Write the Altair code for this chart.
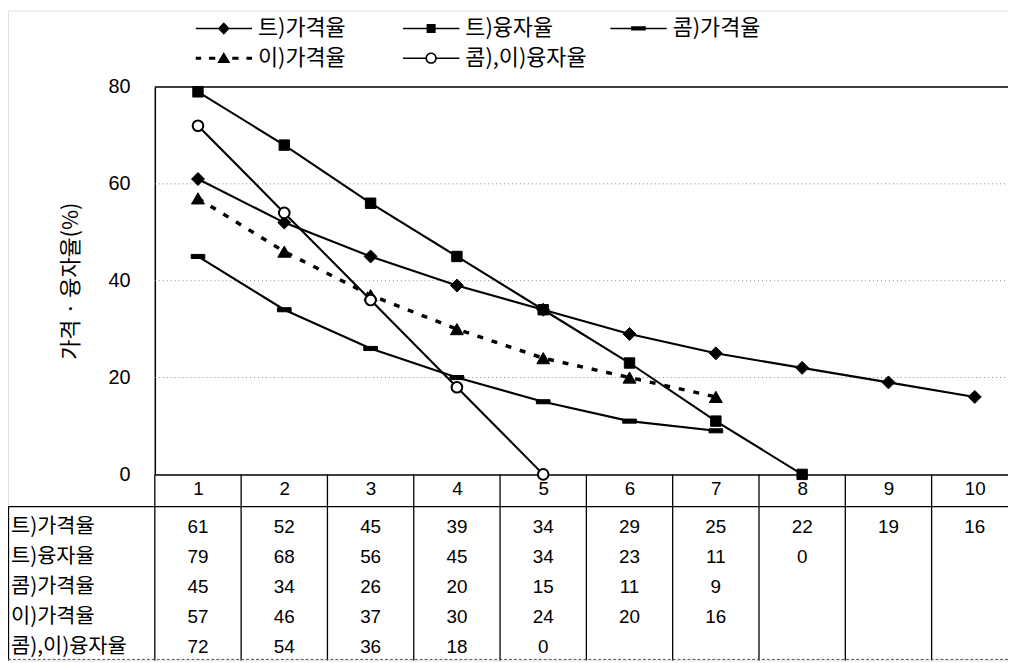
import altair as alt
import pandas as pd

# ---------------- data ----------------
categories = [1, 2, 3, 4, 5, 6, 7, 8, 9, 10]
series_names = ["트)가격율", "트)융자율", "콤)가격율", "이)가격율", "콤),이)융자율"]
t_price = [61, 52, 45, 39, 34, 29, 25, 22, 19, 16]
t_loan = [79, 68, 56, 45, 34, 23, 11, 0]
k_price = [45, 34, 26, 20, 15, 11, 9]
i_price = [57, 46, 37, 30, 24, 20, 16]
ki_loan = [72, 54, 36, 18, 0]
y_ticks = [0, 20, 40, 60, 80]
y_title = "가격 · 융자율(%)"

series_values = [t_price, t_loan, k_price, i_price, ki_loan]
recs = []
for r, (name, vals) in enumerate(zip(series_names, series_values), start=1):
    for c, v in zip(categories, vals):
        recs.append({"series": name, "x": c, "value": v, "row": r})
df = pd.DataFrame(recs)
df_rows = pd.DataFrame({"series": series_names, "row": list(range(1, len(series_names) + 1))})
df_grid = pd.DataFrame({"v": y_ticks[1:-1]})
df_top = pd.DataFrame({"v": [y_ticks[-1]]})
df_sep = pd.DataFrame({"x": [c - 0.5 for c in categories]})
df_one = pd.DataFrame({"k": [0]})

# ---------------- layout ----------------
W, H = 1008, 655
X0, X1 = 148, 1018          # pixel range of category axis (0.5 .. 10.5)
Y0, Y80 = 467.5, 77         # pixel range of value axis
TABLE_TOP = 500
KR = "Noto Sans CJK KR"
NUM = "Liberation Sans"

xs = alt.Scale(domain=[categories[0] - 0.5, categories[-1] + 0.5], range=[X0, X1], nice=False, zero=False)
ys = alt.Scale(domain=[y_ticks[0], y_ticks[-1]], range=[Y0, Y80], nice=False, zero=False)
rs = alt.Scale(domain=[1, len(series_names)], range=[520.5, 642], nice=False, zero=False)

x_axis = alt.Axis(values=categories, format="d", orient="bottom", offset=-(H - Y0), labelPadding=5,
                  ticks=False, grid=False, domainColor="black", domainWidth=1.5, labelFont=NUM,
                  labelFontSize=19, labelColor="black", title=None, labelFlush=False, labelOverlap=False)
y_axis = alt.Axis(values=y_ticks, format="d", orient="left", offset=-X0, labelPadding=25, ticks=False,
                  grid=False, domainColor="black", domainWidth=1.5, labelFont=NUM, labelFontSize=20,
                  labelColor="black", title=y_title, titleFont=KR, titleFontSize=22,
                  titleFontWeight="normal", titleColor="black", titlePadding=26)

def X(field="x:Q"):
    return alt.X(field, scale=xs, axis=x_axis)

def XD(v):
    return alt.X(datum=v, type="quantitative", scale=xs, axis=x_axis)

# ---------------- frame ----------------
grid = alt.Chart(df_grid).mark_rule(stroke="#8a8a8a", strokeWidth=1, strokeDash=[1, 3]).encode(
    x=XD(categories[0] - 0.5), x2=alt.X2(datum=categories[-1] + 0.5),
    y=alt.Y("v:Q", scale=ys, axis=y_axis))
top = alt.Chart(df_top).mark_rule(stroke="black", strokeWidth=1.5).encode(
    x=XD(categories[0] - 0.5), x2=alt.X2(datum=categories[-1] + 0.5),
    y=alt.Y("v:Q", scale=ys, axis=None))
seps = alt.Chart(df_sep).mark_rule(stroke="black", strokeWidth=1.3).encode(
    x=X(), y=alt.Y(datum=0, type="quantitative", scale=ys, axis=None), y2=alt.value(H))
frame_left = alt.Chart(df_one).mark_rule(stroke="black", strokeWidth=1.3).encode(
    x=alt.value(0.5), y=alt.value(TABLE_TOP), y2=alt.value(H))
frame_hdr = alt.Chart(df_one).mark_rule(stroke="black", strokeWidth=1.3).encode(
    x=alt.value(0), x2=alt.value(W), y=alt.value(TABLE_TOP))
frame_bot = alt.Chart(df_one).mark_rule(stroke="#555555", strokeWidth=1, strokeDash=[3, 2]).encode(
    x=alt.value(0), x2=alt.value(W), y=alt.value(H - 1))

# ---------------- series ----------------
Yv = alt.Y("value:Q", scale=ys, axis=None)
solid = alt.Chart(df).transform_filter(alt.datum.series != series_names[3]).mark_line(
    stroke="black", strokeWidth=2.1).encode(x=X(), y=Yv, detail="series:N", order="x:Q")
dashed = alt.Chart(df).transform_filter(alt.datum.series == series_names[3]).mark_line(
    stroke="black", strokeWidth=3.5, strokeDash=[6, 9]).encode(x=X(), y=Yv, order="x:Q")

def pts(name, shape, size, fill, sw=1):
    return alt.Chart(df).transform_filter(alt.datum.series == name).mark_point(
        shape=shape, size=size, fill=fill, stroke="black", strokeWidth=sw, opacity=1, filled=True
    ).encode(x=X(), y=Yv)

p1 = pts(series_names[0], "diamond", 170, "black")
p2 = pts(series_names[1], "square", 110, "black")
p3 = pts(series_names[2], "M-1,-0.3L1,-0.3L1,0.3L-1,0.3Z", 190, "black")
p4 = pts(series_names[3], "triangle-up", 170, "black")
p5 = pts(series_names[4], "circle", 115, "white", 2)

# ---------------- table ----------------
vals = alt.Chart(df).mark_text(font=NUM, fontSize=19, color="black", baseline="middle", align="center").encode(
    x=X(), y=alt.Y("row:Q", scale=rs, axis=None), text="value:Q")
labels = alt.Chart(df_rows).mark_text(font=KR, fontSize=21, color="black", baseline="middle", align="left").encode(
    x=alt.value(3), y=alt.Y("row:Q", scale=rs, axis=None), text="series:N")

# ---------------- legend ----------------
LINE = "M-1,-0.026L1,-0.026L1,0.026L-1,0.026Z"
legend_paths = [
    LINE + "M0,-0.22L0.21,0L0,0.22L-0.21,0Z",
    LINE + "M-0.16,-0.16L0.16,-0.16L0.16,0.16L-0.16,0.16Z",
    LINE + "M-0.26,-0.075L0.26,-0.075L0.26,0.075L-0.26,0.075Z",
    "M-1,-0.05L-0.8,-0.05L-0.8,0.05L-1,0.05ZM-0.52,-0.05L-0.3,-0.05L-0.3,0.05L-0.52,0.05Z"
    "M0.3,-0.05L0.52,-0.05L0.52,0.05L0.3,0.05ZM0.8,-0.05L1,-0.05L1,0.05L0.8,0.05Z"
    "M0,-0.22L0.23,0.17L-0.23,0.17Z",
    "M-1,-0.026L-0.19,-0.026L-0.19,0.026L-1,0.026Z"
    "M0.19,-0.026L1,-0.026L1,0.026L0.19,0.026Z"
    "M0.2,0A0.2,0.2 0 1,1 -0.2,0A0.2,0.2 0 1,1 0.2,0Z"
    "M0.145,0A0.145,0.145 0 1,0 -0.145,0A0.145,0.145 0 1,0 0.145,0Z",
]
leg = alt.Legend(orient="none", legendX=189, legendY=7, columns=3, direction="horizontal",
                 gridAlign="all", columnPadding=23, rowPadding=8, clipHeight=22, symbolSize=3249,
                 symbolStrokeWidth=0, symbolFillColor="black", symbolOffset=0, labelOffset=6,
                 labelFont=KR, labelFontSize=22, labelColor="black", labelLimit=400, title=None,
                 symbolOpacity=1)
legend_layer = alt.Chart(df).transform_filter("false").mark_point(
    filled=True, color="black", opacity=1).encode(
    shape=alt.Shape("series:N", scale=alt.Scale(domain=series_names, range=legend_paths), legend=leg),
)

chart = alt.layer(
    grid, top, seps, frame_left, frame_hdr, frame_bot,
    solid, dashed, p1, p2, p3, p4, p5, vals, labels, legend_layer
).resolve_scale(y="independent").properties(
    width=W, height=H, padding=0, autosize=alt.AutoSizeParams(type="none"), background="white"
).configure_view(stroke=None).configure(font=KR)

chart.save("out.html", embed_options={"renderer": "svg", "actions": False})
